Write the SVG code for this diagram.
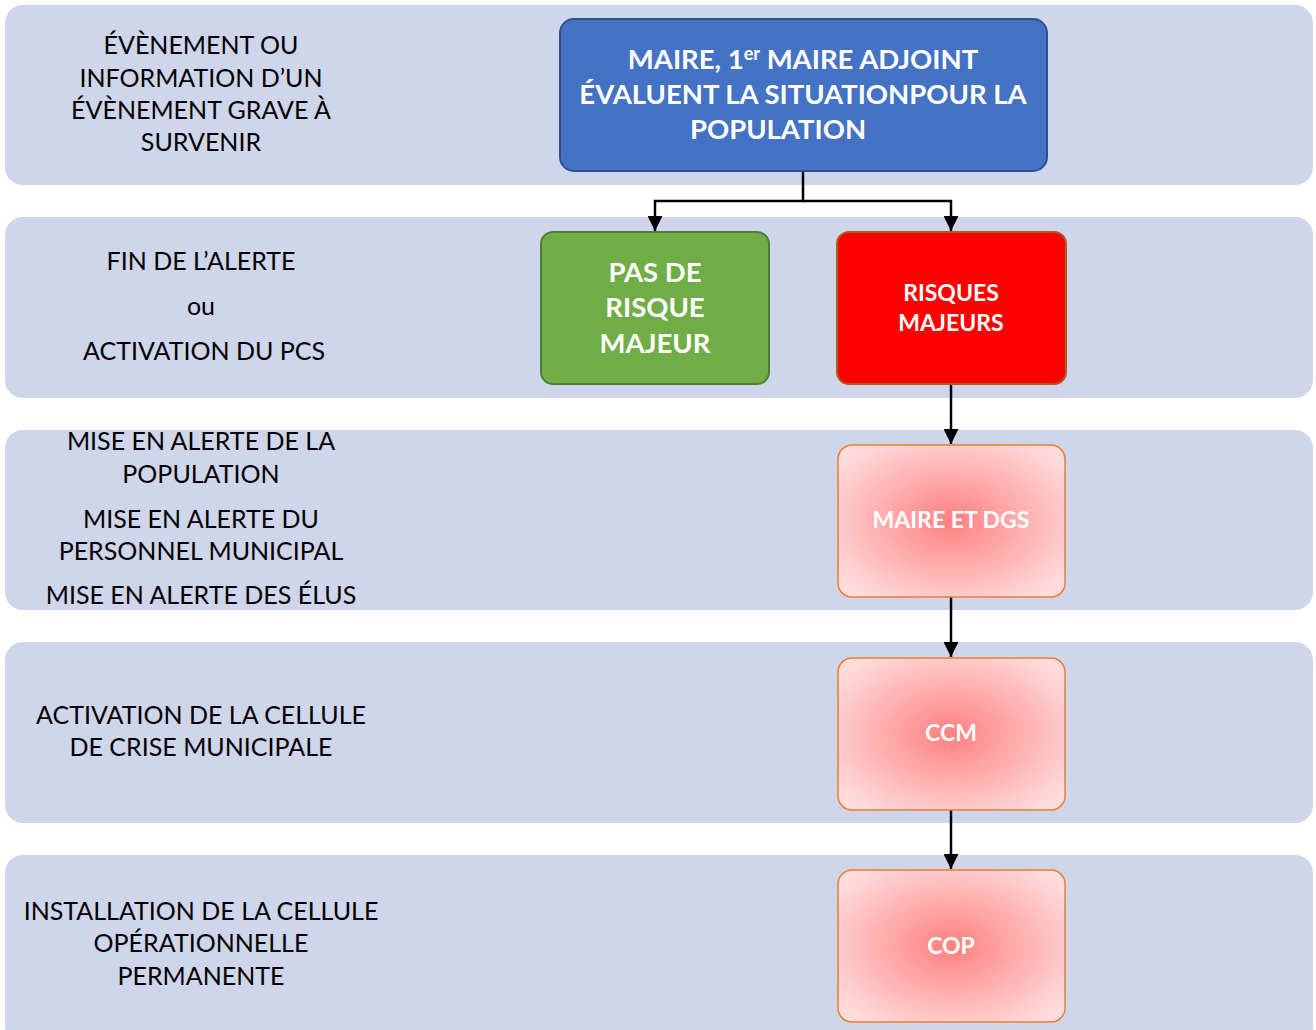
<svg xmlns="http://www.w3.org/2000/svg" width="1316" height="1030" viewBox="0 0 1316 1030">
<style>
.band{fill:#CFD5EA;}
.lbl{font-family:Lato,"Open Sans","Liberation Sans",sans-serif;font-size:25px;fill:#000;text-anchor:middle;}
.wb{font-family:Lato,"Open Sans","Liberation Sans",sans-serif;font-weight:bold;fill:#fff;text-anchor:middle;}
.conn{stroke:#000;stroke-width:2.5;fill:none;}
.pink{fill:url(#rg);stroke:#ED7D31;stroke-width:1.5;}
</style>
<defs>
<radialGradient id="rg" cx="50%" cy="50%" r="62%">
<stop offset="0" stop-color="#FF8080"/>
<stop offset="1" stop-color="#FFDCDC"/>
</radialGradient>
<marker id="arr" viewBox="0 0 14 14" refX="14" refY="7" markerWidth="15" markerHeight="15" markerUnits="userSpaceOnUse" orient="auto">
<path d="M0,0 L14,7 L0,14 Z" fill="#000"/>
</marker>
</defs>
<g id="bands">
<rect class="band" x="5" y="5" width="1308" height="180" rx="18"/>
<rect class="band" x="5" y="217" width="1308" height="181" rx="18"/>
<rect class="band" x="5" y="430" width="1308" height="180" rx="18"/>
<rect class="band" x="5" y="642" width="1308" height="181" rx="18"/>
<rect class="band" x="5" y="855" width="1308" height="190" rx="18"/>
</g>
<g id="labels">
<text class="lbl" x="201" y="54">ÉVÈNEMENT OU</text>
<text class="lbl" x="201" y="87">INFORMATION D’UN</text>
<text class="lbl" x="201" y="119">ÉVÈNEMENT GRAVE À</text>
<text class="lbl" x="201" y="151">SURVENIR</text>
<text class="lbl" x="201" y="270">FIN DE L’ALERTE</text>
<text class="lbl" x="201" y="315">ou</text>
<text class="lbl" x="204" y="360">ACTIVATION DU PCS</text>
<text class="lbl" x="201" y="450">MISE EN ALERTE DE LA</text>
<text class="lbl" x="201" y="483">POPULATION</text>
<text class="lbl" x="201" y="528">MISE EN ALERTE DU</text>
<text class="lbl" x="201" y="560">PERSONNEL MUNICIPAL</text>
<text class="lbl" x="201" y="604">MISE EN ALERTE DES ÉLUS</text>
<text class="lbl" x="201" y="724">ACTIVATION DE LA CELLULE</text>
<text class="lbl" x="201" y="756">DE CRISE MUNICIPALE</text>
<text class="lbl" x="201" y="920">INSTALLATION DE LA CELLULE</text>
<text class="lbl" x="201" y="952">OPÉRATIONNELLE</text>
<text class="lbl" x="201" y="985">PERMANENTE</text>
</g>
<g id="connectors">
<path class="conn" d="M803,171 V201 H655 V231" marker-end="url(#arr)"/>
<path class="conn" d="M803,201 H951 V231" marker-end="url(#arr)"/>
<path class="conn" d="M951,384 V444" marker-end="url(#arr)"/>
<path class="conn" d="M951,597 V657" marker-end="url(#arr)"/>
<path class="conn" d="M951,810 V869" marker-end="url(#arr)"/>
</g>
<g id="node-maire">
<rect x="560" y="19" width="487" height="152" rx="14" fill="#4472C4" stroke="#2F528F" stroke-width="2"/>
<text class="wb" font-size="27.5" x="803" y="69">MAIRE, 1<tspan font-size="18" dy="-9">er</tspan><tspan dy="9"> MAIRE ADJOINT</tspan></text>
<text class="wb" font-size="27.5" x="803" y="104">ÉVALUENT LA SITUATIONPOUR LA</text>
<text class="wb" font-size="27.5" x="778" y="139">POPULATION</text>
</g>
<g id="node-pas-risque">
<rect x="541" y="232" width="228" height="152" rx="12" fill="#70AD47" stroke="#507E32" stroke-width="2"/>
<text class="wb" font-size="27.5" x="655" y="282">PAS DE</text>
<text class="wb" font-size="27.5" x="655" y="317">RISQUE</text>
<text class="wb" font-size="27.5" x="655" y="353">MAJEUR</text>
</g>
<g id="node-risques">
<rect x="837" y="232" width="229" height="152" rx="12" fill="#FF0000" stroke="#AE5A21" stroke-width="2"/>
<text class="wb" font-size="23" x="951" y="301">RISQUES</text>
<text class="wb" font-size="23" x="951" y="331">MAJEURS</text>
</g>
<g id="node-maire-dgs">
<rect class="pink" x="838" y="445" width="227" height="152" rx="14"/>
<text class="wb" font-size="23" x="951" y="528">MAIRE ET DGS</text>
</g>
<g id="node-ccm">
<rect class="pink" x="838" y="658" width="227" height="152" rx="14"/>
<text class="wb" font-size="23" x="951" y="741">CCM</text>
</g>
<g id="node-cop">
<rect class="pink" x="838" y="870" width="227" height="152" rx="14"/>
<text class="wb" font-size="23" x="951" y="954">COP</text>
</g>
</svg>
